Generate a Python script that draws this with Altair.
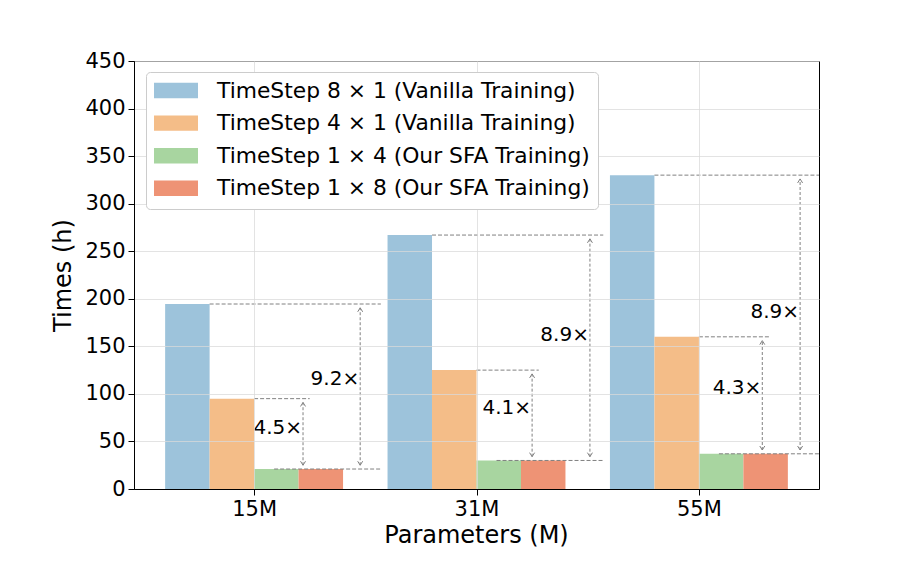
import altair as alt
import pandas as pd

# ---------------- data ----------------
groups = ["15M", "31M", "55M"]
series = [
    "TimeStep 8 × 1 (Vanilla Training)",
    "TimeStep 4 × 1 (Vanilla Training)",
    "TimeStep 1 × 4 (Our SFA Training)",
    "TimeStep 1 × 8 (Our SFA Training)",
]
colors = ["#9dc3db", "#f4bd88", "#a8d5a0", "#ee9375"]
ts8x1 = [194.5, 267, 330]
ts4x1 = [95, 125, 160]
ts1x4 = [21, 30, 37]
ts1x8 = [21, 30, 37]
ratio_small = ["4.5×", "4.1×", "4.3×"]
ratio_big = ["9.2×", "8.9×", "8.9×"]

# annotation placement
arrow_small_off = [0.22, 0.25, 0.285]
arrow_big_off = [0.477, 0.51, 0.455]
label_small_y = [64, 85, 106]
label_big_y = [115.5, 162, 186]

BAR_W = 0.2
SHRINK = 4.0
GRAY = "#808080"
FONT = "DejaVu Sans"

values = [ts8x1, ts4x1, ts1x4, ts1x8]

# bars table
bar_rows = []
for gi, g in enumerate(groups):
    for si, s in enumerate(series):
        x = gi + (si - 2) * BAR_W
        bar_rows.append({"group": g, "series": s, "x": x, "x2": x + BAR_W,
                         "value": values[si][gi], "order": si})
bars_df = pd.DataFrame(bar_rows)

# dashed reference lines, arrows, labels
hl_rows = []
arrow_rows = []
label_rows = []
for gi in range(len(groups)):
    top = ts8x1[gi]
    mid = ts4x1[gi]
    low = ts1x8[gi]
    hl_rows.append({"y": top, "x1": gi - BAR_W, "x2": gi + 0.57})
    hl_rows.append({"y": mid, "x1": gi, "x2": gi + arrow_small_off[gi] + 0.03})
    hl_rows.append({"y": low, "x1": gi + 0.09, "x2": gi + 0.57})
    for off, hi, txt, ly in [(arrow_small_off[gi], mid, ratio_small[gi], label_small_y[gi]),
                             (arrow_big_off[gi], top, ratio_big[gi], label_big_y[gi])]:
        arrow_rows.append({"x": gi + off, "lo": low + SHRINK, "hi": hi - SHRINK})
        label_rows.append({"x": gi + off, "y": ly, "text": txt})
hl_df = pd.DataFrame(hl_rows)
arrow_df = pd.DataFrame(arrow_rows)
label_df = pd.DataFrame(label_rows)

x_scale = alt.Scale(domain=[-0.54, 2.54], nice=False, zero=False)
y_scale = alt.Scale(domain=[0, 450], nice=False)

label_expr = f"{groups}[datum.value]"

X_TITLE = "Parameters (M)"
Y_TITLE = "Times (h)"

x_axis = alt.Axis(values=[0, 1, 2], labelExpr=label_expr, title=X_TITLE,
                  titleX=342, titleY=46, titleBaseline="middle",
                  titleFontSize=24, titleFontWeight="normal",
                  tickSize=6, labelPadding=3, zindex=1)
y_axis = alt.Axis(values=list(range(0, 451, 50)), title=Y_TITLE,
                  titleX=-71, titleY=214, titleAngle=270, titleBaseline="middle",
                  titleFontSize=24, titleFontWeight="normal",
                  tickSize=6, labelPadding=3, zindex=1)


def X(field):
    return alt.X(field, scale=x_scale, axis=x_axis, title=X_TITLE)


def Y(field):
    return alt.Y(field, scale=y_scale, axis=y_axis, title=Y_TITLE)


bars = alt.Chart(bars_df).mark_rect().encode(
    x=X("x:Q"),
    x2="x2:Q",
    y=Y("value:Q"),
    y2=alt.datum(0),
    color=alt.Color("series:N", scale=alt.Scale(domain=series, range=colors),
                    sort=series,
                    legend=alt.Legend(
                        title=None, orient="none", legendX=12, legendY=11, zindex=3,
                        fillColor="white", strokeColor="#cccccc", cornerRadius=4,
                        padding=8, symbolType="M-1,-0.35L1,-0.35L1,0.35L-1,0.35Z",
                        symbolSize=1936, symbolStrokeWidth=0, symbolOpacity=1,
                        labelFontSize=21.8, labelFont=FONT, labelColor="black",
                        labelOffset=19, labelLimit=600, clipHeight=21, rowPadding=9.6)),
)

hlines = alt.Chart(hl_df).mark_rule(strokeDash=[4, 2], color=GRAY, strokeWidth=1, clip=True).encode(
    x=X("x1:Q"),
    x2="x2:Q",
    y=Y("y:Q"),
)

arrows = alt.Chart(arrow_df).mark_rule(strokeDash=[3, 2], color=GRAY, strokeWidth=1).encode(
    x=X("x:Q"),
    y=Y("lo:Q"),
    y2="hi:Q",
)

head_up = alt.Chart(arrow_df).mark_point(
    shape="M-0.5,0.8L0,0L0.5,0.8", size=100, filled=False, color=GRAY, strokeWidth=1, opacity=1
).encode(
    x=X("x:Q"),
    y=Y("hi:Q"),
)

head_down = alt.Chart(arrow_df).mark_point(
    shape="M-0.5,-0.8L0,0L0.5,-0.8", size=100, filled=False, color=GRAY, strokeWidth=1, opacity=1
).encode(
    x=X("x:Q"),
    y=Y("lo:Q"),
)

labels = alt.Chart(label_df).mark_text(
    align="right", baseline="middle", dx=-1, fontSize=20, font=FONT, color="black"
).encode(
    x=X("x:Q"),
    y=Y("y:Q"),
    text="text:N",
)

chart = alt.layer(bars, hlines, arrows, head_up, head_down, labels).properties(
    width=685, height=428,
    autosize=alt.AutoSizeParams(type="none"),
    padding={"left": 126, "top": 53, "right": 60, "bottom": 70},
).configure(font=FONT).configure_view(
    stroke="black", strokeWidth=1
).configure_axis(
    labelFont=FONT, labelFontSize=21, labelColor="black",
    titleFont=FONT, titleColor="black",
    domainColor="black", tickColor="black",
    gridColor="#d9d9d9", gridOpacity=0.75, grid=True,
)

chart.save("out.html", embed_options={"renderer": "svg", "actions": False})
